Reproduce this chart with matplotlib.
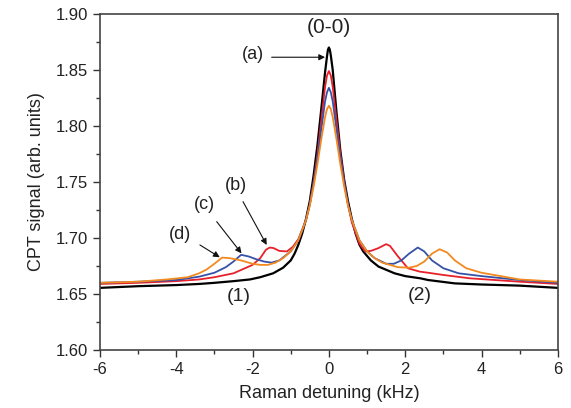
import numpy as np
import matplotlib
matplotlib.use("Agg")
from matplotlib import pyplot as plt
from matplotlib.ticker import MultipleLocator

plt.rcParams['font.family'] = ['Liberation Sans', 'DejaVu Sans']

# values (x in kHz, y in arb. units)
x_a = [-6, -5, -4, -3.4, -3, -2.5, -2.07, -1.8, -1.46, -1.2, -1.0, -0.9, -0.8, -0.7, -0.6, -0.5, -0.4,
       -0.3, -0.2, -0.1, -0.05, -0.025, 0, 0.025, 0.05, 0.1, 0.2, 0.3, 0.4, 0.5, 0.6, 0.7, 0.8, 0.9,
       1.0, 1.1, 1.3, 1.72, 2.0, 2.4, 2.6, 3.3, 4.0, 5.0, 6]
y_a = [1.6555, 1.657, 1.658, 1.659, 1.660, 1.6615, 1.663, 1.665, 1.6685, 1.6735, 1.680, 1.686, 1.694,
       1.704, 1.717, 1.733, 1.756, 1.783, 1.815, 1.848, 1.862, 1.868, 1.870, 1.868, 1.863, 1.850,
       1.812, 1.778, 1.752, 1.733, 1.717, 1.704, 1.694, 1.688, 1.684, 1.680, 1.6745, 1.6685, 1.666,
       1.664, 1.6625, 1.6595, 1.6585, 1.6575, 1.6555]

x_b = [-6, -5, -4, -3.4, -3, -2.5, -2.0, -1.8, -1.65, -1.55, -1.45, -1.3, -1.1, -0.95, -0.8, -0.6,
       -0.5, -0.4, -0.3, -0.2, -0.1, -0.05, 0, 0.05, 0.1, 0.2, 0.3, 0.4, 0.5, 0.6, 0.8, 0.95, 1.1,
       1.3, 1.5, 1.6, 1.8, 2.07, 2.38, 2.6, 3.0, 3.7, 5.0, 6]
y_b = [1.659, 1.660, 1.6615, 1.663, 1.665, 1.6685, 1.676, 1.682, 1.6895, 1.6915, 1.691, 1.6885, 1.688,
       1.692, 1.699, 1.716, 1.730, 1.750, 1.775, 1.805, 1.835, 1.845, 1.849, 1.845, 1.835, 1.805,
       1.775, 1.750, 1.730, 1.714, 1.695, 1.688, 1.6885, 1.691, 1.6945, 1.693, 1.684, 1.673, 1.670,
       1.669, 1.667, 1.664, 1.661, 1.659]

x_c = [-6, -5, -4, -3.4, -3, -2.7, -2.5, -2.3, -2.1, -1.9, -1.7, -1.5, -1.3, -1.0, -0.8, -0.6, -0.5,
       -0.4, -0.3, -0.2, -0.1, -0.05, 0, 0.05, 0.1, 0.2, 0.3, 0.4, 0.5, 0.6, 0.8, 1.0, 1.2, 1.5, 1.7,
       1.9, 2.1, 2.33, 2.5, 2.7, 3.0, 3.4, 4.0, 5.0, 6]
y_c = [1.660, 1.661, 1.6625, 1.6655, 1.669, 1.674, 1.679, 1.685, 1.6835, 1.681, 1.679, 1.678, 1.680,
       1.688, 1.698, 1.716, 1.730, 1.749, 1.771, 1.797, 1.822, 1.830, 1.834, 1.830, 1.822, 1.797,
       1.771, 1.749, 1.730, 1.716, 1.698, 1.688, 1.682, 1.677, 1.677, 1.680, 1.686, 1.6915, 1.688,
       1.680, 1.673, 1.6685, 1.666, 1.6625, 1.660]

x_d = [-6, -5, -4.25, -3.7, -3.4, -3.2, -3.0, -2.8, -2.6, -2.3, -2.0, -1.8, -1.6, -1.4, -1.2, -1.0,
       -0.8, -0.6, -0.5, -0.4, -0.3, -0.2, -0.1, -0.05, 0, 0.05, 0.1, 0.2, 0.3, 0.4, 0.5, 0.6, 0.8,
       1.0, 1.2, 1.4, 1.6, 1.8, 2.1, 2.3, 2.5, 2.7, 2.9, 3.1, 3.3, 3.6, 4.0, 4.5, 5.0, 6]
y_d = [1.660, 1.661, 1.663, 1.665, 1.6685, 1.672, 1.677, 1.6825, 1.682, 1.680, 1.677, 1.676, 1.676,
       1.678, 1.682, 1.688, 1.698, 1.716, 1.729, 1.746, 1.766, 1.788, 1.808, 1.815, 1.818, 1.815,
       1.808, 1.788, 1.766, 1.746, 1.729, 1.716, 1.698, 1.688, 1.682, 1.678, 1.676, 1.674, 1.6735,
       1.675, 1.679, 1.686, 1.690, 1.687, 1.680, 1.673, 1.669, 1.666, 1.663, 1.661]

fig = plt.figure(figsize=(5.71, 4.08), dpi=100)
ax = fig.add_axes([0.175, 0.142, 0.802, 0.824])

ax.plot(x_a, y_a, color="#000000", lw=1.6)
ax.plot(x_b, y_b, color="#e8202a", lw=1.3)
ax.plot(x_c, y_c, color="#3552a6", lw=1.3)
ax.plot(x_d, y_d, color="#f28a20", lw=1.3)

ax.set_xlim(-6, 6)
ax.set_ylim(1.60, 1.90)
ax.xaxis.set_major_locator(MultipleLocator(2))
ax.xaxis.set_minor_locator(MultipleLocator(1))
ax.yaxis.set_major_locator(MultipleLocator(0.05))
ax.yaxis.set_minor_locator(MultipleLocator(0.025))
ax.yaxis.set_major_formatter(matplotlib.ticker.FormatStrFormatter("%.2f"))
ax.xaxis.set_major_formatter(matplotlib.ticker.FuncFormatter(lambda v, p: "%d" % v))
ax.tick_params(which="both", direction="out", top=False, right=False,
               colors="#333333", labelcolor="#222222", labelsize=12)
ax.tick_params(which="major", length=5, width=1)
ax.tick_params(which="minor", length=3, width=1)
for s in ax.spines.values():
    s.set_color("#444444")
    s.set_linewidth(1.2)

ax.set_xlabel("Raman detuning (kHz)", fontsize=13, color="#222222", labelpad=6)
ax.set_ylabel("CPT signal (arb. units)", fontsize=13, color="#222222", labelpad=8)

# labels and arrows
ax.text(0, 1.8875, "(0-0)", fontsize=15, ha="center", va="center", color="#222222")
ax.text(-2.0, 1.864, "(a)", fontsize=13, ha="center", va="center", color="#222222")
ax.text(-2.44, 1.747, "(b)", fontsize=13, ha="center", va="center", color="#222222")
ax.text(-3.25, 1.7295, "(c)", fontsize=13, ha="center", va="center", color="#222222")
ax.text(-3.9, 1.7027, "(d)", fontsize=13, ha="center", va="center", color="#222222")
ax.text(-2.35, 1.6476, "(1)", fontsize=14, ha="center", va="center", color="#222222")
ax.text(2.38, 1.649, "(2)", fontsize=14, ha="center", va="center", color="#222222")

arrow = dict(arrowstyle="-|>", color="#111111", lw=0.8, mutation_scale=9, shrinkA=0, shrinkB=0)
ax.annotate("", xy=(-0.1, 1.8613), xytext=(-1.5, 1.8613), arrowprops=arrow)
ax.annotate("", xy=(-1.63, 1.6938), xytext=(-2.25, 1.7324), arrowprops=arrow)
ax.annotate("", xy=(-2.29, 1.6863), xytext=(-2.94, 1.7146), arrowprops=arrow)
ax.annotate("", xy=(-2.86, 1.6828), xytext=(-3.38, 1.6938), arrowprops=arrow)

fig.savefig("out.png", dpi=100)
